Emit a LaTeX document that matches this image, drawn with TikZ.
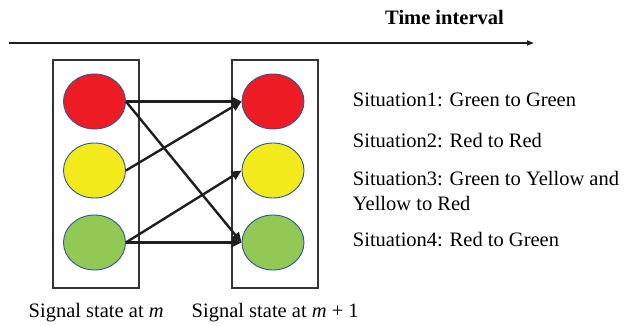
\documentclass[tikz,border=0pt]{standalone}
\usepackage{fontspec}
\setmainfont{Liberation Serif}
\usetikzlibrary{arrows.meta,shapes.geometric}
\definecolor{lred}{HTML}{ED1C24}
\definecolor{lyellow}{HTML}{F2EA1A}
\definecolor{lgreen}{HTML}{92C854}
\definecolor{lborder}{HTML}{2F5597}
\begin{document}
\begin{tikzpicture}[x=1pt,y=-1pt,
  lamp/.style={ellipse,draw=lborder,line width=0.9pt,minimum width=62pt,minimum height=55pt,inner sep=0pt},
  frame/.style={draw=black!80,line width=1.1pt,minimum width=86pt,minimum height=228pt,inner sep=0pt},
  conn/.style={line width=2.4pt,draw=black!88,-{Triangle[length=10pt,width=9pt]}},
  txt/.style={anchor=base west,inner sep=0pt,font=\fontsize{20.5}{24}\selectfont},
  ]
\useasboundingbox (0,0) rectangle (626,326);
\node[frame] (boxL) at (96,174) {};
\node[frame] (boxR) at (275,174) {};
\node[lamp,fill=lred] (rL) at (94.5,101.5) {};
\node[lamp,fill=lyellow] (yL) at (94.5,170.5) {};
\node[lamp,fill=lgreen] (gL) at (94.5,242.5) {};
\node[lamp,fill=lred] (rR) at (273,101.5) {};
\node[lamp,fill=lyellow] (yR) at (273,170.5) {};
\node[lamp,fill=lgreen] (gR) at (273,242.5) {};
\coordinate (tS) at (9,43);
\coordinate (tE) at (534,43);
\draw[line width=1.6pt,draw=black!88,-{Triangle[length=7pt,width=5pt]}] (tS) -- (tE);
\node[txt,font=\fontsize{20.5}{24}\selectfont\bfseries] (ti) at (385,25) {Time interval};
\draw[conn] (rL.east) -- (rR.west);
\draw[conn] (rL.east) -- (gR.west);
\draw[conn] (yL.east) -- (rR.west);
\draw[conn] (gL.east) -- (yR.west);
\draw[conn] (gL.east) -- (gR.west);
\node[txt] (s1) at (352.7,106.5) {Situation1: Green to Green};
\node[txt] (s2) at (352.7,147) {Situation2: Red to Red};
\node[txt] (s3) at (352.7,185.5) {Situation3: Green to Yellow and};
\node[txt] (s3b) at (352.7,210.5) {Yellow to Red};
\node[txt] (s4) at (352.7,246.5) {Situation4: Red to Green};
\node[txt] (l1) at (28.5,317) {Signal state at \textit{m}};
\node[txt] (l2) at (191.5,317) {Signal state at \textit{m} + 1};
\end{tikzpicture}
\end{document}
